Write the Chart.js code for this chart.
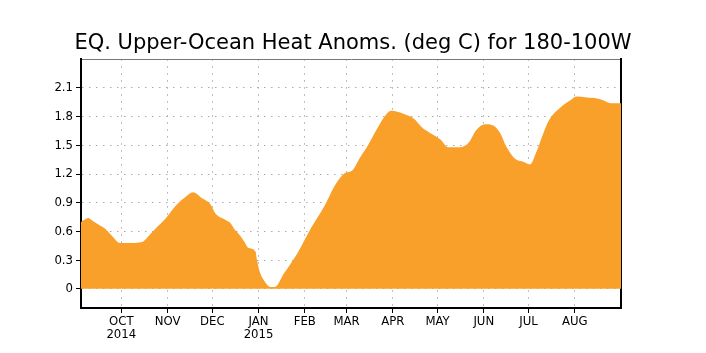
<!DOCTYPE html>
<html>
<head>
<meta charset="utf-8">
<script src="https://cdn.jsdelivr.net/npm/chart.js@4.4.1/dist/chart.umd.min.js"></script>
<style>
  html, body { margin: 0; padding: 0; background: #fff; }
</style>
</head>
<body>
<canvas id="heatChart" width="706" height="353"></canvas>
<script>
// days counted from 1 Oct 2014
const days = [-27, -22, -20, -15, -11, -6, -1, 7, 14, 17, 23, 30, 36, 43, 48, 54, 60, 63,
  70, 73, 76, 80, 83, 85, 90, 91, 93, 96, 100, 103, 109, 118, 127, 136, 144, 150, 155,
  160, 165, 171, 178, 181, 185, 189, 196, 202, 207, 214, 219, 227, 233, 238, 244, 249,
  254, 258, 264, 269, 274, 278, 283, 287, 294, 301, 305, 312, 319, 323, 328, 335];
const anomalies = [0.70, 0.74, 0.72, 0.67, 0.63, 0.55, 0.48, 0.48, 0.49, 0.53, 0.63, 0.74,
  0.86, 0.96, 1.01, 0.95, 0.88, 0.79, 0.72, 0.69, 0.62, 0.55, 0.48, 0.43, 0.39, 0.30,
  0.17, 0.08, 0.02, 0.02, 0.16, 0.37, 0.63, 0.86, 1.10, 1.21, 1.24, 1.37, 1.49, 1.66,
  1.83, 1.86, 1.85, 1.83, 1.78, 1.68, 1.63, 1.56, 1.48, 1.48, 1.53, 1.66, 1.72, 1.71,
  1.63, 1.49, 1.36, 1.33, 1.30, 1.42, 1.63, 1.77, 1.89, 1.97, 2.01, 2.00, 1.99, 1.97,
  1.94, 1.94];

const monthDays = [0, 31, 61, 92, 123, 151, 182, 212, 243, 273, 304];
const monthLabels = [["OCT", "2014"], "NOV", "DEC", ["JAN", "2015"], "FEB", "MAR",
  "APR", "MAY", "JUN", "JUL", "AUG"];
const yTicks = [0, 0.3, 0.6, 0.9, 1.2, 1.5, 1.8, 2.1];
const yLabels = ["0", "0.3", "0.6", "0.9", "1.2", "1.5", "1.8", "2.1"];

const tickFont = {
  family: '"DejaVu Sans Condensed", "Liberation Sans Narrow", "Liberation Sans", sans-serif',
  size: 13,
  lineHeight: 1.0,
};

new Chart(document.getElementById("heatChart"), {
  type: "line",
  data: {
    datasets: [
      {
        data: days.map((d, i) => ({ x: d, y: anomalies[i] })),
        fill: "origin",
        backgroundColor: "#f9a02b",
        borderWidth: 0,
        pointRadius: 0,
        cubicInterpolationMode: "monotone",
      },
    ],
  },
  options: {
    responsive: false,
    animation: false,
    layout: { padding: 0 },
    plugins: {
      legend: { display: false },
      tooltip: { enabled: false },
      title: {
        display: true,
        text: "EQ. Upper-Ocean Heat Anoms. (deg C) for 180-100W",
        color: "#000",
        font: { family: '"DejaVu Sans", sans-serif', size: 21, weight: "normal", lineHeight: 1.2 },
        padding: { top: 31, bottom: 3 },
      },
    },
    scales: {
      x: {
        type: "linear",
        min: -27,
        max: 335,
        afterBuildTicks: (scale) => {
          scale.ticks = monthDays.map((v) => ({ value: v }));
        },
        afterFit: (scale) => {
          scale.height = 45;
        },
        ticks: {
          color: "#000",
          font: tickFont,
          padding: 2,
          maxRotation: 0,
          autoSkip: false,
          callback: (value, index) => monthLabels[index],
        },
        grid: {
          color: "#aaa",
          lineWidth: 1,
          tickColor: "#000",
          tickLength: 5,
          tickBorderDash: [],
        },
        border: { display: true, color: "#000", width: 2, dash: [1.5, 5.5] },
      },
      x2: {
        type: "linear",
        position: "top",
        afterFit: (scale) => {
          scale.height = 0;
        },
        ticks: { display: false },
        grid: { display: false },
        border: { display: true, color: "#777", width: 1 },
      },
      y: {
        min: -0.2,
        max: 2.4,
        afterBuildTicks: (scale) => {
          scale.ticks = yTicks.map((v) => ({ value: v }));
        },
        afterFit: (scale) => {
          scale.width = 81;
        },
        ticks: {
          color: "#000",
          font: tickFont,
          padding: 3,
          callback: (value, index) => yLabels[index],
        },
        grid: {
          color: "#aaa",
          lineWidth: 1,
          tickColor: "#000",
          tickLength: 5,
          tickBorderDash: [],
        },
        border: { display: true, color: "#000", width: 2, dash: [1.5, 5.5] },
      },
      y2: {
        position: "right",
        afterFit: (scale) => {
          scale.width = 85;
        },
        ticks: { display: false },
        grid: { display: false },
        border: { display: true, color: "#000", width: 2 },
      },
    },
  },
});
</script>
</body>
</html>
